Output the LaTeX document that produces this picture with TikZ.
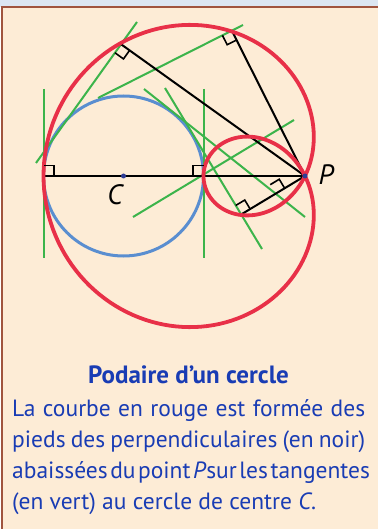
\documentclass[tikz,border=0pt]{standalone}
\usepackage{fontspec}
\setmainfont{PT Sans}
\usetikzlibrary{calc}
\definecolor{topband}{RGB}{220,230,242}
\definecolor{paper}{RGB}{253,236,214}
\definecolor{framebrown}{RGB}{160,84,62}
\definecolor{circblue}{RGB}{90,142,208}
\definecolor{curvered}{RGB}{232,48,72}
\definecolor{tangreen}{RGB}{60,180,75}
\definecolor{dotblue}{RGB}{45,60,150}
\definecolor{textblue}{RGB}{25,60,180}
\tikzset{
    circ/.style={draw=circblue, line width=3pt},
    pedal/.style={draw=curvered, line width=3.8pt, line join=round},
    tangent/.style={draw=tangreen, line width=2pt},
    perp/.style={draw=black, line width=2pt},
    rightmark/.style={draw=black, line width=1.6pt},
    dot/.style={circle, fill=dotblue, inner sep=0pt, minimum size=5pt},
    ptlabel/.style={inner sep=0pt, font=\fontsize{28}{28}\selectfont\itshape},
    caption/.style={text=textblue, inner sep=0pt, font=\fontsize{23.5}{31}\selectfont},
    titletext/.style={text=textblue, inner sep=0pt, font=\fontsize{25}{31}\selectfont\bfseries}
}
% right angle mark: foot, point along one side, turn
\newcommand{\perpmark}[3]{%
    \coordinate (ma) at ($(#1)!10.5pt!(#2)$);
    \coordinate (mb) at ($(#1)!10.5pt!#3:(#2)$);
    \draw[rightmark] (ma) -- ($(ma)+(mb)-(#1)$) -- (mb);
}
\begin{document}
\begin{tikzpicture}[x=1pt, y=-1pt]
    \useasboundingbox (0,0) rectangle (378,529);
    \fill[topband] (0,0) rectangle (378,7);
    \fill[paper] (2,7) rectangle (378,529);
    \draw[framebrown, line width=2pt] (2,529) -- (2,7) -- (378,7);

    % centre and pole
    \coordinate (C) at (123.5,176);
    \coordinate (P) at (305,176);

    % tangents
    \coordinate (t1a) at (43.5,89);  \coordinate (t1b) at (43.5,258);
    \coordinate (t2a) at (203.5,89); \coordinate (t2b) at (203.5,258);
    \coordinate (t3a) at (36,163);   \coordinate (t3b) at (137,22);
    \coordinate (t4a) at (98,98);    \coordinate (t4b) at (243,25);
    \coordinate (t5a) at (144,89);   \coordinate (t5b) at (305,217);
    \coordinate (t6a) at (165,88);   \coordinate (t6b) at (262,249);
    \coordinate (t7a) at (133,217);  \coordinate (t7b) at (294,120);

    % feet of the perpendiculars
    \coordinate (f1) at (43.5,176);
    \coordinate (f2) at (203.5,176);
    \coordinate (f3) at ($(t3a)!(P)!(t3b)$);
    \coordinate (f4) at ($(t4a)!(P)!(t4b)$);
    \coordinate (f6) at ($(t6a)!(P)!(t6b)$);
    \coordinate (f5) at (intersection of t5a--t5b and P--f6);

    \draw[circ] (C) circle[radius=80pt];

    \foreach \i in {1,...,7}
        \draw[tangent] (t\i a) -- (t\i b);

    \draw[perp] (f1) -- (P);
    \draw[perp] (P) -- (f3);
    \draw[perp] (P) -- (f4);
    \draw[perp] (P) -- (f6);

    % pedal curve
    \draw[pedal, shift={(P)}] plot[variable=\t, domain=0:360, samples=241]
        ({(80-181.5*cos(\t))*cos(\t)}, {-(80-181.5*cos(\t))*sin(\t)}) -- cycle;

    \perpmark{f1}{P}{90}
    \perpmark{f2}{C}{-90}
    \perpmark{f3}{P}{-90}
    \perpmark{f4}{P}{-90}
    \perpmark{f6}{P}{90}
    \perpmark{f5}{P}{90}

    \node[dot] (Cdot) at (C) {};
    \node[dot] (Pdot) at (P) {};
    \node[ptlabel] (Clabel) at (115,195) {C};
    \node[ptlabel] (Plabel) at (326,175) {P};

    % caption
    \node[titletext, anchor=base] (title) at (188.5,383) {Podaire d’un cercle};
    \node[caption, anchor=base west] (line1) at (12,416.7)
        {\makebox[353pt][s]{La courbe en rouge est formée des}};
    \node[caption, anchor=base west] (line2) at (12,447.5)
        {\makebox[353pt][s]{pieds des perpendiculaires (en noir)}};
    \node[caption, anchor=base west] (line3) at (12,478.5)
        {\spaceskip=2.5pt plus 1fil\makebox[353pt][s]{abaissées du point \textit{P}sur les tangentes}};
    \node[caption, anchor=base west] (line4) at (12,509)
        {(en vert) au cercle de centre \textit{C}.};
\end{tikzpicture}
\end{document}
